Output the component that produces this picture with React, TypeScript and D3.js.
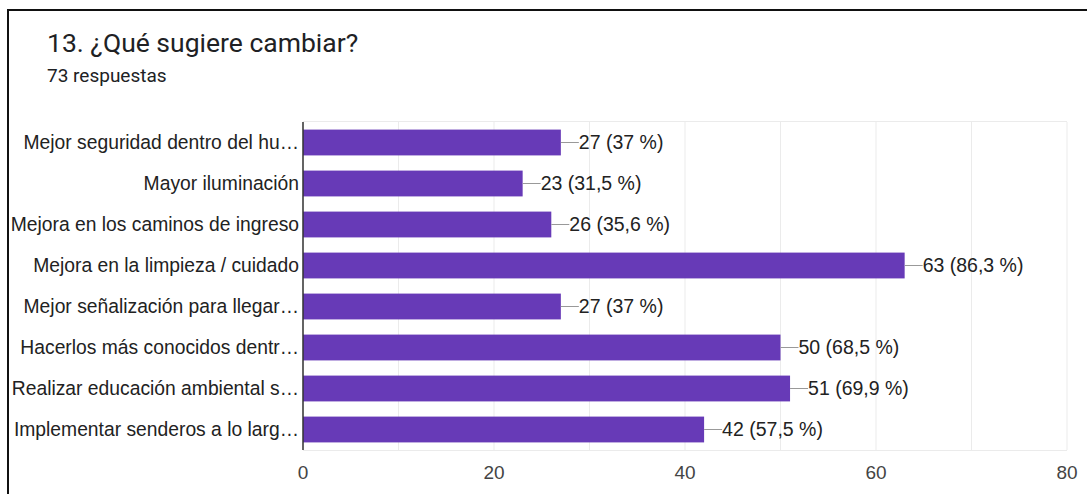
import React from "react";
import * as d3 from "d3";

const categories = [
  "Mejor seguridad dentro del hu…",
  "Mayor iluminación",
  "Mejora en los caminos de ingreso",
  "Mejora en la limpieza / cuidado",
  "Mejor señalización para llegar…",
  "Hacerlos más conocidos dentr…",
  "Realizar educación ambiental s…",
  "Implementar senderos a lo larg…",
];
const counts = [27, 23, 26, 63, 27, 50, 51, 42];
const percents = ["37", "31,5", "35,6", "86,3", "37", "68,5", "69,9", "57,5"];
const majorTicks = [0, 20, 40, 60, 80];
const gridTicks = [0, 10, 20, 30, 40, 50, 60, 70, 80];

const W = 1087;
const H = 494;
const left = 303;
const right = 1067;
const top = 122;
const bottom = 450;
const chartFont = "'Liberation Sans', Arial, sans-serif";
const titleFont = "Roboto, 'Liberation Sans', Arial, sans-serif";

export default function App() {
  const x = d3.scaleLinear().domain([0, 80]).range([left, right]);
  const y = d3.scaleBand<string>().domain(categories).range([top, bottom]).paddingInner(0.37).paddingOuter(0.185);
  return (
    <svg width={W} height={H} style={{ position: "absolute", left: 0, top: 0, background: "#fff" }}>
      <rect x={0} y={0} width={W} height={H} fill="#fff" />
      <line x1={8} y1={10} x2={W} y2={10} stroke="#111" strokeWidth={2} />
      <line x1={8} y1={9} x2={8} y2={H} stroke="#111" strokeWidth={2} />
      <text x={47} y={51.5} fontFamily={titleFont} fontSize={26.5} fill="#202124">13. ¿Qué sugiere cambiar?</text>
      <text x={47} y={82} fontFamily={titleFont} fontSize={19} fill="#202124">73 respuestas</text>
      {gridTicks.map((t) => (
        <line key={"g" + t} x1={x(t)} x2={x(t)} y1={top} y2={bottom} stroke="#ebebeb" strokeWidth={1} />
      ))}
      <line x1={left} x2={right} y1={top - 0.5} y2={top - 0.5} stroke="#ebebeb" />
      <line x1={left} x2={right} y1={bottom + 0.5} y2={bottom + 0.5} stroke="#ebebeb" />
      {categories.map((c, i) => {
        const yc = (y(c) as number) + y.bandwidth() / 2;
        const xe = x(counts[i]);
        return (
          <g key={c}>
            <rect x={left} y={y(c)} width={xe - left} height={y.bandwidth()} fill="#673ab7" />
            <line x1={xe} x2={xe + 18} y1={yc} y2={yc} stroke="#999" strokeWidth={1} />
            <text x={xe + 18} y={yc} dy="0.35em" fontFamily={chartFont} fontSize={19.5} fill="#222">
              {`${counts[i]} (${percents[i]} %)`}
            </text>
            <text x={299} y={yc} dy="0.35em" textAnchor="end" fontFamily={chartFont} fontSize={19.3} fill="#222">
              {c}
            </text>
          </g>
        );
      })}
      <line x1={left} x2={left} y1={top} y2={bottom} stroke="#333" strokeWidth={1.5} />
      {majorTicks.map((t) => (
        <text key={"t" + t} x={x(t)} y={472} dy="0.35em" textAnchor="middle" fontFamily={chartFont} fontSize={19} fill="#444">
          {t}
        </text>
      ))}
    </svg>
  );
}
